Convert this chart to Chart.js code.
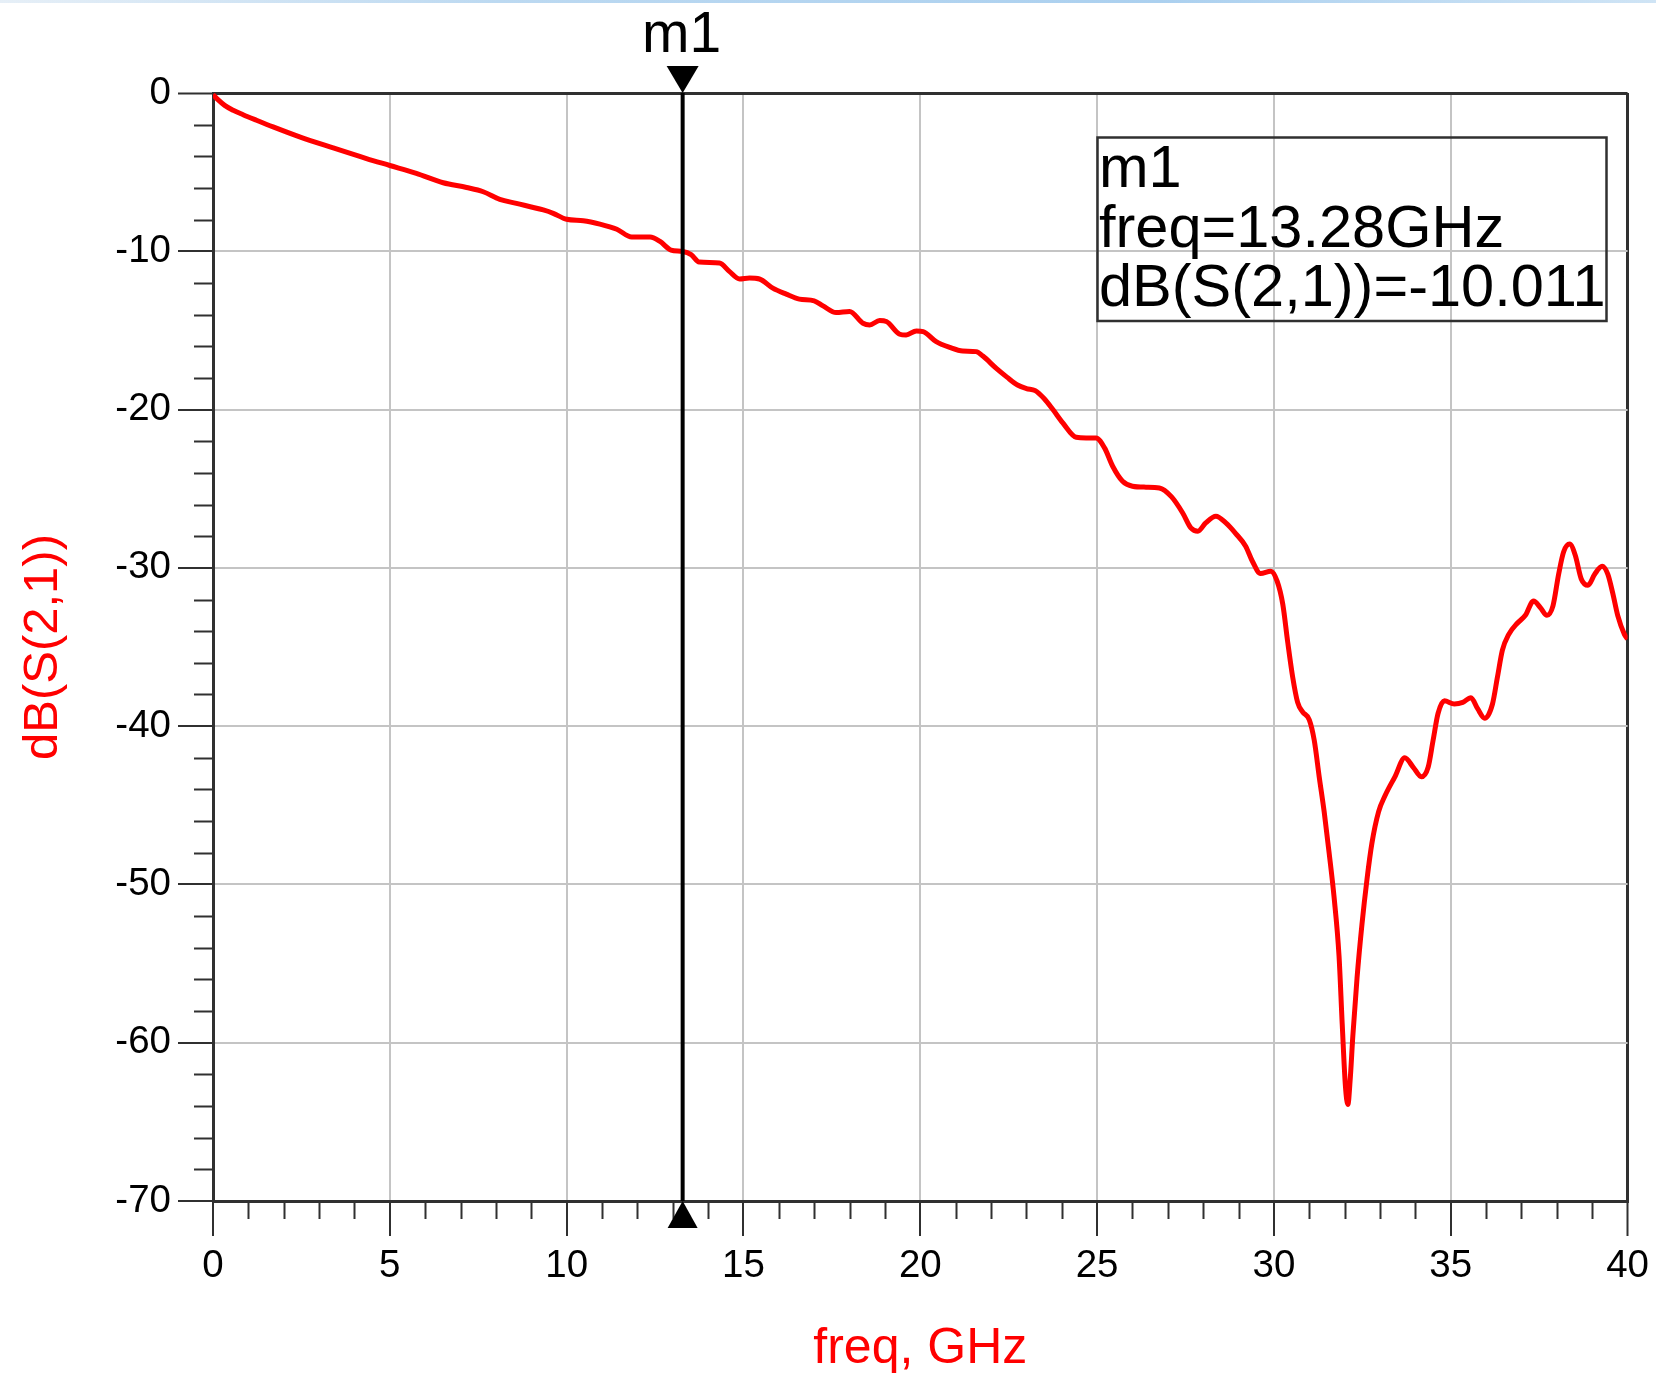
<!DOCTYPE html>
<html><head><meta charset="utf-8">
<script src="https://cdn.jsdelivr.net/npm/chart.js@4/dist/chart.umd.min.js"></script>
<style>
html,body{margin:0;padding:0;background:#fff;}
#wrap{position:absolute;left:0;top:0;width:1656px;height:1379px;}
#topband{position:absolute;left:0;top:0;width:1656px;height:3px;background:linear-gradient(to right,#e6eff7,#bcd9f1 30%,#abd0ef 70%,#cfe4f5);}
</style></head><body>
<div id="wrap"><canvas id="c" width="1656" height="1379"></canvas></div>
<div id="topband"></div>
<script>
// ---- data ----
const freqGHz = [0,0.14,0.33,0.57,0.85,1.23,1.7,2.45,3.4,4.34,5.0,5.75,6.51,7.17,7.64,8.11,8.58,9.34,9.62,10.0,10.47,10.94,11.42,11.84,12.36,12.64,12.95,13.28,13.52,13.75,14.32,14.6,14.89,15.17,15.45,15.83,16.21,16.58,17.0,17.25,17.62,18.0,18.38,18.57,18.85,19.04,19.42,19.6,19.89,20.08,20.45,20.83,21.2,21.58,21.77,22.15,22.45,22.75,23.0,23.25,23.5,23.75,24.03,24.41,24.69,24.97,25.21,25.44,25.72,26.0,26.38,26.76,27.1,27.42,27.65,27.85,28.07,28.36,28.64,28.92,29.2,29.39,29.62,29.91,30.09,30.25,30.39,30.53,30.67,30.81,31.0,31.14,31.28,31.42,31.56,31.7,31.84,31.93,32.02,32.09,32.16,32.23,32.35,32.49,32.63,32.77,32.96,33.14,33.42,33.7,33.94,34.17,34.36,34.5,34.64,34.82,35.1,35.34,35.57,35.76,35.96,36.18,36.32,36.46,36.64,36.88,37.11,37.34,37.53,37.72,37.89,38.05,38.19,38.36,38.52,38.69,38.88,39.07,39.28,39.44,39.58,39.72,39.91,40.0];
const s21dB = [-0.1,-0.42,-0.78,-1.09,-1.37,-1.72,-2.14,-2.77,-3.47,-4.14,-4.58,-5.08,-5.67,-5.97,-6.24,-6.72,-6.97,-7.39,-7.6,-7.98,-8.07,-8.28,-8.61,-9.1,-9.1,-9.38,-9.92,-10.01,-10.21,-10.68,-10.74,-11.27,-11.75,-11.69,-11.75,-12.33,-12.71,-13.02,-13.13,-13.45,-13.87,-13.8,-14.55,-14.65,-14.38,-14.44,-15.24,-15.29,-15.03,-15.07,-15.71,-16.07,-16.3,-16.34,-16.62,-17.4,-17.95,-18.45,-18.67,-18.8,-19.3,-20.0,-20.84,-21.75,-21.79,-21.79,-22.42,-23.58,-24.53,-24.84,-24.9,-24.95,-25.5,-26.53,-27.47,-27.68,-27.16,-26.74,-27.16,-27.83,-28.63,-29.58,-30.36,-30.21,-30.84,-32.3,-34.7,-36.9,-38.5,-39.1,-39.6,-40.9,-43.2,-45.4,-48.0,-50.8,-54.5,-58.8,-62.7,-63.9,-62.2,-59.6,-55.9,-52.5,-49.7,-47.4,-45.4,-44.4,-43.2,-42.0,-42.6,-43.2,-42.6,-40.9,-39.2,-38.4,-38.6,-38.5,-38.2,-38.9,-39.5,-38.6,-36.9,-35.2,-34.2,-33.5,-33.0,-32.1,-32.5,-33.0,-32.4,-30.4,-29.0,-28.5,-29.2,-30.7,-31.1,-30.4,-29.9,-30.4,-31.6,-33.0,-34.2,-34.5];
const xMajorTicks = [0,5,10,15,20,25,30,35,40];
const xMinorStep = 1;
const yMajorTicks = [0,-10,-20,-30,-40,-50,-60,-70];
const yMinorStep = 2;
const xTitle = 'freq, GHz';
const yTitle = 'dB(S(2,1))';
const markerName = 'm1';
const markerFreq = 13.28;
const markerValue = -10.011;

const FONT = "'Liberation Sans', Arial, sans-serif";
const DARK = '#303030';
const GRID = '#c4c4c4';
const xMin = xMajorTicks[0], xMax = xMajorTicks[xMajorTicks.length-1];
const yMax = yMajorTicks[0], yMin = yMajorTicks[yMajorTicks.length-1];

const points = freqGHz.map((f,i)=>({x:f,y:s21dB[i]}));

function stepTicks(lo, hi, step){ const t=[]; for(let v=lo; v<=hi+1e-9; v+=step) t.push({value:Math.round(v*1000)/1000}); return t; }

const overlay = {
  id:'overlay',
  afterDraw(chart){
    const {ctx, chartArea:a, scales:{x,y}} = chart;
    ctx.save();
    // minor ticks
    ctx.strokeStyle = DARK; ctx.lineWidth = 2;
    ctx.beginPath();
    stepTicks(xMin,xMax,xMinorStep).forEach(t=>{
      if (xMajorTicks.includes(t.value)) return;
      const px = Math.round(x.getPixelForValue(t.value))+0.5;
      ctx.moveTo(px, a.bottom); ctx.lineTo(px, a.bottom+18);
    });
    stepTicks(yMin,yMax,yMinorStep).forEach(t=>{
      if (yMajorTicks.includes(t.value)) return;
      const py = Math.round(y.getPixelForValue(t.value))+0.5;
      ctx.moveTo(a.left-19, py); ctx.lineTo(a.left, py);
    });
    ctx.stroke();
    // marker line
    const mx = x.getPixelForValue(markerFreq);
    ctx.strokeStyle = '#000'; ctx.lineWidth = 4;
    ctx.beginPath(); ctx.moveTo(mx, a.top); ctx.lineTo(mx, a.bottom); ctx.stroke();
    ctx.fillStyle = '#000';
    ctx.beginPath(); ctx.moveTo(mx-16, a.top-27); ctx.lineTo(mx+16, a.top-27); ctx.lineTo(mx, a.top); ctx.closePath(); ctx.fill();
    ctx.beginPath(); ctx.moveTo(mx, a.bottom); ctx.lineTo(mx-15, a.bottom+27); ctx.lineTo(mx+15, a.bottom+27); ctx.closePath(); ctx.fill();
    ctx.font = '57px ' + FONT; ctx.textAlign = 'center'; ctx.textBaseline = 'alphabetic';
    ctx.fillText(markerName, mx - 1, 52);
    // marker readout box
    ctx.strokeStyle = DARK; ctx.lineWidth = 2.5;
    ctx.strokeRect(1097.5, 137.5, 509, 183.5);
    ctx.font = '59.5px ' + FONT; ctx.textAlign = 'left';
    ctx.fillText(markerName, 1099, 187);
    ctx.fillText('freq=' + markerFreq.toFixed(2) + 'GHz', 1099, 247);
    ctx.fillText('dB(S(2,1))=' + markerValue.toFixed(3), 1099, 306);
    ctx.restore();
  }
};

new Chart(document.getElementById('c'), {
  type:'line',
  data:{ datasets:[{ data:points, borderColor:'#ff0000', borderWidth:5, pointRadius:0, fill:false, cubicInterpolationMode:'monotone' }]},
  options:{
    responsive:false, animation:false, devicePixelRatio:1,
    layout:{ padding:{ left:0, top:93, right:26, bottom:0 } },
    plugins:{ legend:{display:false}, tooltip:{enabled:false} },
    scales:{
      x:{
        type:'linear', min:xMin, max:xMax,
        afterBuildTicks(s){ s.ticks = stepTicks(xMin,xMax,xMinorStep); },
        afterFit(s){ s.height = 178; },
        ticks:{ autoSkip:false, maxRotation:0, minRotation:0, padding:7, color:'#000',
          font:{ size:38.5, family:FONT },
          callback:(v)=> xMajorTicks.includes(v) ? String(v) : '' },
        grid:{ drawTicks:true, tickLength:35, tickWidth:2,
          color:(c)=>{ const v=c.tick?c.tick.value:null; if(v===xMax) return DARK; return (xMajorTicks.includes(v)&&v!==xMin)?GRID:'rgba(0,0,0,0)'; },
          lineWidth:(c)=> (c.tick && c.tick.value===xMax) ? 3 : 2,
          tickColor:(c)=> (c.tick && xMajorTicks.includes(c.tick.value)) ? DARK : 'rgba(0,0,0,0)' },
        border:{ display:true, color:DARK, width:3 },
        title:{ display:true, text:xTitle, color:'#ff0000', font:{ size:50, family:FONT }, padding:{ top:0, bottom:0 } }
      },
      y:{
        type:'linear', min:yMin, max:yMax,
        afterBuildTicks(s){ s.ticks = stepTicks(yMin,yMax,yMinorStep); },
        afterFit(s){ s.width = 213; },
        ticks:{ autoSkip:false, padding:7, color:'#000',
          font:{ size:38.5, family:FONT },
          callback:(v)=> yMajorTicks.includes(v) ? String(v) : '' },
        grid:{ drawTicks:true, tickLength:35, tickWidth:2,
          color:(c)=>{ const v=c.tick?c.tick.value:null; if(v===yMax) return DARK; return (yMajorTicks.includes(v)&&v!==yMin)?GRID:'rgba(0,0,0,0)'; },
          lineWidth:(c)=> (c.tick && c.tick.value===yMax) ? 3 : 2,
          tickColor:(c)=> (c.tick && yMajorTicks.includes(c.tick.value)) ? DARK : 'rgba(0,0,0,0)' },
        border:{ display:true, color:DARK, width:3 },
        title:{ display:true, text:yTitle, color:'#ff0000', font:{ size:49, family:FONT }, padding:{ top:14, bottom:0 } }
      }
    }
  },
  plugins:[overlay]
});
</script>
</body></html>
